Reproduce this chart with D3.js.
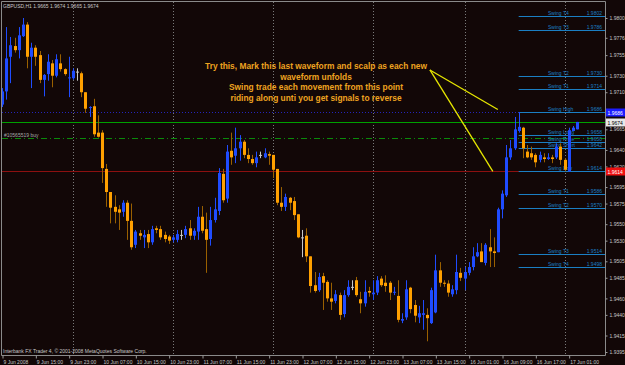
<!DOCTYPE html>
<html>
<head>
<meta charset="utf-8">
<script src="https://cdn.jsdelivr.net/npm/d3@7"></script>
<style>
html, body { margin: 0; padding: 0; background: #120707; }
svg { display: block; }
text { font-family: "Liberation Sans", Arial, sans-serif; }
</style>
</head>
<body>
<div id="chart"></div>
<script>
// GBPUSD H1, 9 Jun 2008 - 17 Jun 2008

const sessions = [["9 Jun", 7, 23], ["10 Jun", 0, 23], ["11 Jun", 0, 23], ["12 Jun", 0, 23],
                  ["13 Jun", 0, 21], ["16 Jun", 0, 23], ["17 Jun", 0, 3]];

const open = [1.9695,1.9711,1.9753,1.9766,1.9761,1.9778,1.9792,1.9753,1.9764,1.9755,1.9725,1.9732,1.9745,1.9730,1.9745,1.9738,1.9727,1.9727,1.9735,1.9733,
  1.9710,1.9691,1.9693,1.9661,1.9661,1.9617,1.9589,1.9571,1.9568,1.9565,1.9576,1.9554,1.9525,1.9539,1.9534,1.9538,1.9528,1.9545,1.9544,1.9537,
  1.9535,1.9531,1.9531,1.9537,1.9537,1.9545,1.9536,1.9541,1.9559,1.9544,1.9532,1.9555,1.9566,1.9611,1.9581,1.9639,1.9633,1.9642,1.9650,1.9634,
  1.9629,1.9624,1.9634,1.9631,1.9635,1.9634,1.9617,1.9576,1.9571,1.9582,1.9578,1.9562,1.9534,1.9536,1.9511,1.9476,1.9470,1.9487,1.9480,1.9460,
  1.9457,1.9464,1.9441,1.9464,1.9474,1.9482,1.9459,1.9454,1.9469,1.9465,1.9467,1.9484,1.9479,1.9479,1.9467,1.9463,1.9433,1.9437,1.9473,1.9452,
  1.9437,1.9440,1.9440,1.9430,1.9443,1.9494,1.9479,1.9478,1.9465,1.9470,1.9491,1.9484,1.9491,1.9498,1.9511,1.9517,1.9503,1.9522,1.9517,1.9516,
  1.9568,1.9585,1.9631,1.9642,1.9663,1.9667,1.9638,1.9636,1.9634,1.9628,1.9631,1.9629,1.9631,1.9631,1.9644,1.9628,1.9614,1.9663,1.9665];

const high = [1.9715,1.9789,1.9777,1.9776,1.9789,1.9800,1.9795,1.9770,1.9767,1.9760,1.9732,1.9756,1.9749,1.9756,1.9756,1.9739,1.9753,1.9739,1.9739,1.9735,
  1.9710,1.9693,1.9702,1.9682,1.9664,1.9623,1.9589,1.9585,1.9573,1.9579,1.9579,1.9575,1.9543,1.9543,1.9543,1.9543,1.9548,1.9548,1.9548,1.9541,
  1.9537,1.9537,1.9543,1.9543,1.9548,1.9555,1.9545,1.9571,1.9572,1.9564,1.9571,1.9582,1.9618,1.9617,1.9646,1.9661,1.9667,1.9658,1.9652,1.9642,
  1.9634,1.9638,1.9638,1.9642,1.9638,1.9634,1.9617,1.9595,1.9587,1.9583,1.9583,1.9562,1.9543,1.9545,1.9511,1.9492,1.9491,1.9491,1.9482,1.9479,
  1.9470,1.9467,1.9470,1.9482,1.9482,1.9486,1.9468,1.9482,1.9474,1.9482,1.9487,1.9487,1.9488,1.9481,1.9474,1.9482,1.9442,1.9482,1.9474,1.9458,
  1.9451,1.9458,1.9448,1.9473,1.9513,1.9504,1.9482,1.9482,1.9476,1.9513,1.9497,1.9498,1.9504,1.9522,1.9527,1.9527,1.9527,1.9544,1.9534,1.9570,
  1.9591,1.9646,1.9652,1.9680,1.9686,1.9668,1.9646,1.9644,1.9636,1.9638,1.9636,1.9636,1.9634,1.9648,1.9648,1.9630,1.9667,1.9669,1.9674];

const low = [1.9692,1.9701,1.9721,1.9758,1.9751,1.9777,1.9739,1.9715,1.9742,1.9721,1.9705,1.9724,1.9716,1.9728,1.9735,1.9730,1.9704,1.9725,1.9724,1.9704,
  1.9685,1.9680,1.9656,1.9655,1.9600,1.9571,1.9551,1.9551,1.9543,1.9559,1.9531,1.9519,1.9521,1.9531,1.9521,1.9521,1.9525,1.9539,1.9531,1.9528,
  1.9526,1.9528,1.9528,1.9531,1.9533,1.9531,1.9531,1.9531,1.9539,1.9491,1.9524,1.9552,1.9561,1.9576,1.9576,1.9622,1.9624,1.9627,1.9630,1.9624,
  1.9622,1.9619,1.9630,1.9630,1.9622,1.9606,1.9573,1.9566,1.9566,1.9567,1.9555,1.9533,1.9510,1.9504,1.9467,1.9467,1.9468,1.9446,1.9456,1.9446,
  1.9454,1.9434,1.9437,1.9462,1.9470,1.9462,1.9442,1.9450,1.9462,1.9458,1.9464,1.9474,1.9468,1.9458,1.9464,1.9431,1.9430,1.9434,1.9442,1.9431,
  1.9430,1.9422,1.9408,1.9429,1.9442,1.9474,1.9474,1.9462,1.9462,1.9465,1.9481,1.9470,1.9488,1.9494,1.9510,1.9504,1.9500,1.9498,1.9498,1.9516,
  1.9557,1.9583,1.9628,1.9640,1.9661,1.9630,1.9630,1.9628,1.9619,1.9625,1.9625,1.9628,1.9624,1.9629,1.9622,1.9614,1.9614,1.9663,1.9665];

const close = [1.9711,1.9751,1.9767,1.9761,1.9779,1.9792,1.9753,1.9764,1.9753,1.9725,1.9731,1.9747,1.9730,1.9750,1.9738,1.9732,1.9728,1.9736,1.9735,1.9710,
  1.9690,1.9692,1.9659,1.9656,1.9618,1.9589,1.9570,1.9565,1.9564,1.9576,1.9554,1.9522,1.9541,1.9536,1.9537,1.9528,1.9544,1.9543,1.9534,1.9532,
  1.9530,1.9534,1.9538,1.9537,1.9544,1.9536,1.9542,1.9559,1.9542,1.9531,1.9555,1.9568,1.9612,1.9579,1.9638,1.9631,1.9642,1.9650,1.9634,1.9629,
  1.9624,1.9631,1.9634,1.9636,1.9633,1.9616,1.9576,1.9571,1.9583,1.9576,1.9561,1.9534,1.9534,1.9511,1.9475,1.9469,1.9486,1.9479,1.9460,1.9456,
  1.9465,1.9440,1.9464,1.9474,1.9474,1.9464,1.9454,1.9468,1.9467,1.9467,1.9482,1.9476,1.9475,1.9467,1.9468,1.9434,1.9435,1.9471,1.9447,1.9439,
  1.9442,1.9442,1.9436,1.9470,1.9494,1.9479,1.9478,1.9467,1.9471,1.9492,1.9485,1.9492,1.9498,1.9511,1.9516,1.9504,1.9525,1.9517,1.9515,1.9568,
  1.9587,1.9631,1.9642,1.9665,1.9668,1.9642,1.9631,1.9631,1.9625,1.9634,1.9629,1.9631,1.9629,1.9644,1.9628,1.9616,1.9664,1.9667,1.9674];

// 1.9685 sits under the blue price box, so it is left out
const priceTicks = [1.9800,1.9776,1.9755,1.9730,1.9710,1.9665,1.9640,1.9620,1.9595,1.9575,1.9550,1.9530,1.9505,1.9485,1.9460,1.9440,1.9415,1.9395];

const swingNames  = ["Swing T4","Swing T3","Swing T2","Swing T1","Swing High","Swing Long","Swing Price","Swing Short","Swing Low","Swing T1","Swing T2","Swing T3","Swing T4"];
const swingValues = [1.9802,1.9786,1.9730,1.9714,1.9686,1.9658,1.9650,1.9642,1.9614,1.9586,1.9570,1.9514,1.9498];

const noteLines = ["Try this, Mark this last waveform and scalp as each new", "waveform unfolds",
                   "Swing trade each movement from this point", "riding along unti you get signals to reverse"];

const W = 625, H = 365;
const plotRight = 605, plotBottom = 355;

const bars = [];
sessions.forEach(([day, from, to]) => {
    for (let h = from; h <= to; h++) bars.push({day: day, hour: h});
});
bars.forEach((b, i) => { b.i = i; b.o = open[i]; b.h = high[i]; b.l = low[i]; b.c = close[i]; });

const svg = d3.select("#chart").append("svg")
    .attr("width", W)
    .attr("height", H);

svg.append("rect").attr("width", W).attr("height", H).attr("fill", "#120707");

const x = d3.scaleLinear().domain([0, bars.length - 1]).range([2, 577]);
const y = d3.scaleLinear().domain([1.9395, 1.9800]).range([352, 18]);

// period separators (midnight)
svg.append("g")
    .selectAll("line")
    .data(bars.filter(b => b.hour === 0 && b.i > 0))
    .enter().append("line")
    .attr("x1", d => Math.round(x(d.i)) + 0.5).attr("x2", d => Math.round(x(d.i)) + 0.5)
    .attr("y1", 2).attr("y2", plotBottom)
    .attr("stroke", "#7a7a7a").attr("stroke-dasharray", "1,2");

// horizontal levels across the chart
const hline = (p, color, dash) => svg.append("line")
    .attr("x1", 2).attr("x2", plotRight)
    .attr("y1", Math.round(y(p)) + 0.5).attr("y2", Math.round(y(p)) + 0.5)
    .attr("stroke", color).attr("stroke-dasharray", dash);

hline(1.9686, "#2424b8", "1,2");
hline(1.9674, "#00a000", null);
hline(1.9654, "#0a8a0a", "6,3,1,3");
hline(1.9614, "#8c1010", null);

svg.append("text")
    .attr("x", 4).attr("y", Math.round(y(1.9654)) - 1)
    .attr("font-size", "5px").attr("fill", "#a8a8a8")
    .text("#10565519 buy");

// swing levels
const swingX0 = x(124);
const swing = svg.append("g");
swing.selectAll("line")
    .data(swingValues)
    .enter().append("line")
    .attr("x1", swingX0).attr("x2", plotRight)
    .attr("y1", d => Math.round(y(d)) + 0.5).attr("y2", d => Math.round(y(d)) + 0.5)
    .attr("stroke", "#1b7fc4");
swing.selectAll(".sname")
    .data(swingValues)
    .enter().append("text")
    .attr("class", "sname")
    .attr("x", 548).attr("y", d => Math.round(y(d)) - 1)
    .attr("font-size", "5px").attr("fill", "#1b7fc4")
    .text((d, i) => swingNames[i]);
swing.selectAll(".sval")
    .data(swingValues)
    .enter().append("text")
    .attr("class", "sval")
    .attr("x", 602).attr("y", d => Math.round(y(d)) - 1)
    .attr("text-anchor", "end")
    .attr("font-size", "5px").attr("fill", "#1b7fc4")
    .text(d => d.toFixed(4));

// candles
const up = "#1f4cff", down = "#ffa000", downWick = "#9a6000", flat = "#c8c8c8";
const colorOf = d => d.c > d.o ? up : (d.c < d.o ? down : flat);

const candle = svg.append("g")
    .selectAll("g")
    .data(bars)
    .enter().append("g");

candle.append("line")
    .attr("x1", d => Math.round(x(d.i)) + 0.5).attr("x2", d => Math.round(x(d.i)) + 0.5)
    .attr("y1", d => y(d.h)).attr("y2", d => y(d.l))
    .attr("stroke", d => d.c < d.o ? downWick : colorOf(d));

candle.append("rect")
    .attr("x", d => Math.round(x(d.i)) - 1)
    .attr("width", 3)
    .attr("y", d => y(Math.max(d.o, d.c)))
    .attr("height", d => Math.max(1, Math.abs(y(d.o) - y(d.c))))
    .attr("fill", colorOf);

// annotation
const note = svg.append("g");
note.selectAll("text")
    .data(noteLines)
    .enter().append("text")
    .attr("x", 316).attr("y", (d, i) => 69 + i * 10.6)
    .attr("text-anchor", "middle")
    .attr("font-family", "DejaVu Sans")
    .attr("font-weight", "bold")
    .attr("font-size", "8.4px")
    .attr("fill", "#eea320")
    .text(d => d);

const arrowFrom = {bar: 102.7, price: 1.9737};
const arrowTo = [{bar: 119, price: 1.9689}, {bar: 117.8, price: 1.9614}];
note.selectAll("line")
    .data(arrowTo)
    .enter().append("line")
    .attr("x1", x(arrowFrom.bar)).attr("y1", y(arrowFrom.price))
    .attr("x2", d => x(d.bar)).attr("y2", d => y(d.price))
    .attr("stroke", "#e6e600").attr("stroke-width", 1.3);

// frame
svg.append("path")
    .attr("d", `M1.5,${plotBottom + 0.5}V1.5H${plotRight + 0.5}V${plotBottom + 0.5}H1.5`)
    .attr("fill", "none").attr("stroke", "#8a8a8a");

// price axis
const yAxis = svg.append("g")
    .attr("transform", `translate(${plotRight + 0.5},0)`)
    .call(d3.axisRight(y).tickValues(priceTicks).tickFormat(d3.format(".4f")).tickSize(2).tickPadding(2));
yAxis.select(".domain").remove();
yAxis.selectAll("line").attr("stroke", "#9a9a9a");
yAxis.selectAll("text").attr("fill", "#c8c8c8").attr("font-size", "5px").attr("font-family", "Liberation Sans");

// time axis
const fmtHour = h => (h < 10 ? "0" : "") + h + ":00";
const xAxis = svg.append("g")
    .attr("transform", `translate(0,${plotBottom + 0.5})`)
    .call(d3.axisBottom(x)
        .tickValues(d3.range(0, bars.length, 8))
        .tickFormat(i => i === 0 ? "9 Jun 2008" : bars[i].day + " " + fmtHour(bars[i].hour))
        .tickSize(3).tickPadding(1));
xAxis.select(".domain").remove();
xAxis.selectAll("line").attr("stroke", "#9a9a9a").attr("transform", "translate(0.5,0)");
xAxis.selectAll("text")
    .attr("text-anchor", "start").attr("dx", 1).attr("dy", "0.9em")
    .attr("fill", "#c8c8c8").attr("font-size", "5px").attr("font-family", "Liberation Sans");

// price boxes on the axis
const boxes = [{p: 1.9686, bg: "#1c1cff", fg: "#ffffff"},
               {p: 1.9674, bg: "#e8e8e8", fg: "#000000"},
               {p: 1.9614, bg: "#f01010", fg: "#ffffff"}];
const box = svg.append("g").selectAll("g").data(boxes).enter().append("g");
box.append("rect")
    .attr("x", plotRight + 1).attr("y", d => Math.round(y(d.p)) - 3.5)
    .attr("width", 19).attr("height", 8)
    .attr("fill", d => d.bg);
box.append("text")
    .attr("x", plotRight + 2.5).attr("y", d => Math.round(y(d.p)) + 2.5)
    .attr("font-size", "5px").attr("fill", d => d.fg)
    .text(d => d.p.toFixed(4));

// header and copyright
svg.append("text")
    .attr("x", 3).attr("y", 8)
    .attr("font-size", "5px").attr("fill", "#c8c8c8")
    .text("GBPUSD,H1  " + [open[138], high[138], low[138], close[138]].map(v => v.toFixed(4)).join(" "));

svg.append("text")
    .attr("x", 3).attr("y", 353)
    .attr("font-size", "5px").attr("fill", "#c8c8c8")
    .text("Interbank FX Trader 4, © 2001-2008 MetaQuotes Software Corp.");
</script>
</body>
</html>
